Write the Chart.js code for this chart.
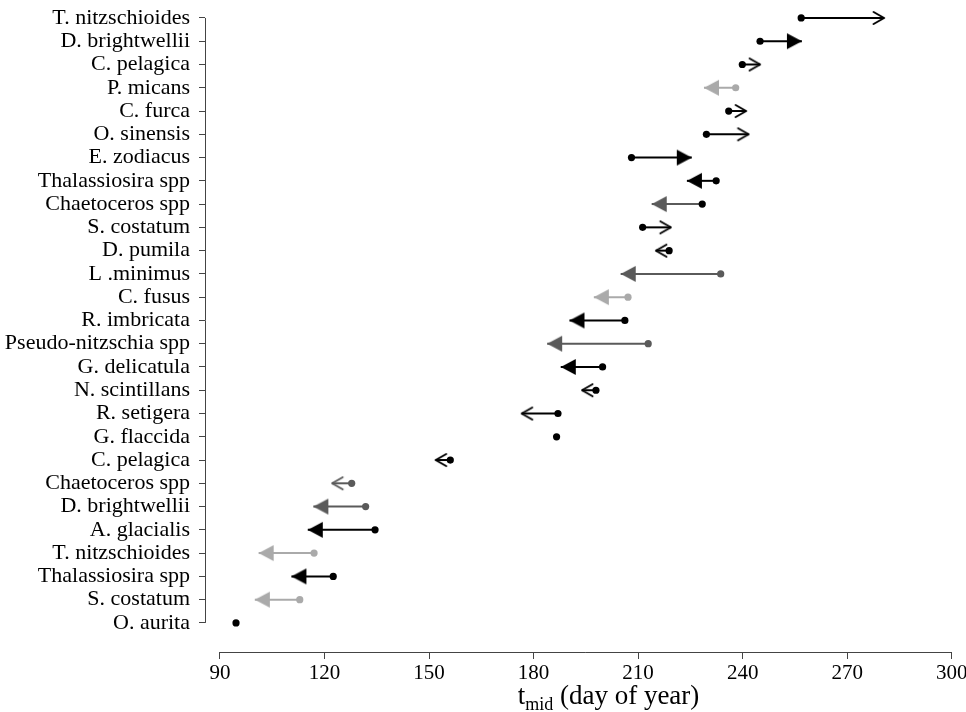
<!DOCTYPE html>
<html><head><meta charset="utf-8">
<script src="https://cdn.jsdelivr.net/npm/chart.js@4/dist/chart.umd.min.js"></script>
<style>html,body{margin:0;padding:0;background:#fff}#wrap{width:966px;height:712px}</style>
</head><body><div id="wrap"><canvas id="c" width="966" height="712"></canvas></div>
<script>
// ---- data (top row first) ----
const species = ['T. nitzschioides','D. brightwellii','C. pelagica','P. micans','C. furca','O. sinensis','E. zodiacus','Thalassiosira spp','Chaetoceros spp','S. costatum','D. pumila','L .minimus','C. fusus','R. imbricata','Pseudo-nitzschia spp','G. delicatula','N. scintillans','R. setigera','G. flaccida','C. pelagica','Chaetoceros spp','D. brightwellii','A. glacialis','T. nitzschioides','Thalassiosira spp','S. costatum','O. aurita'];
const startDay = [256.8,245.0,239.9,238.0,236.0,229.6,208.1,232.4,228.4,211.3,218.9,233.7,207.1,206.2,212.9,199.8,197.9,187.0,186.6,156.1,127.8,131.8,134.5,117.0,122.5,112.9,94.6];
const endDay   = [280.6,257.0,245.0,228.9,241.0,241.7,225.4,224.0,213.9,219.4,215.1,205.0,197.3,190.3,183.9,187.8,193.9,176.6,null,151.9,122.2,116.8,115.2,101.1,110.5,100.0,null];
// trend category: 'filled' head, 'open' head, or none
const headType = ['open','filled','open','filled','open','open','filled','filled','filled','open','open','filled','filled','filled','filled','filled','open','open',null,'open','open','filled','filled','filled','filled','filled',null];
// shade group: k = black, d = dark grey, l = light grey
const shadeGroup = ['k','k','k','l','k','k','k','k','d','k','k','d','l','k','d','k','k','k','k','k','d','d','k','l','k','l','k'];
const dotGroup   = ['k','k','k','l','k','k','k','k','k','k','k','d','l','k','d','k','k','k','k','k','d','d','k','l','k','l','k'];
const xTicks = [90,120,150,180,210,240,270,300];

// ---- styles ----
const SHADES = {k:'#000000', d:'#5a5a5a', l:'#aaaaaa'};
const AXIS = '#444444';
const FONT = 'Liberation Serif';

function headCanvas(kind, dir, color){
  const L = kind==='filled' ? 15 : 10.5, H = kind==='filled' ? 8 : 6;
  const c = document.createElement('canvas');
  const w = 2*Math.ceil(L+4), h = 2*Math.ceil(H+3);
  c.width = w; c.height = h;
  const g = c.getContext('2d');
  const cx = w/2, cy = h/2;
  g.beginPath();
  g.moveTo(cx - dir*L, cy - H); g.lineTo(cx, cy); g.lineTo(cx - dir*L, cy + H);
  if (kind === 'filled') { g.closePath(); g.fillStyle = color; g.fill(); }
  else { g.strokeStyle = color; g.lineWidth = 2; g.lineCap = 'round'; g.lineJoin = 'round'; g.stroke(); }
  return c;
}

const datasets = species.map((name, i) => {
  const col = SHADES[shadeGroup[i]];
  const dotCol = SHADES[dotGroup[i]];
  const pts = [{x: startDay[i], y: i}];
  let head = null;
  if (endDay[i] !== null) {
    pts.push({x: endDay[i], y: i});
    head = headCanvas(headType[i], endDay[i] > startDay[i] ? 1 : -1, col);
  }
  return {
    label: name,
    data: pts,
    showLine: true,
    borderColor: col,
    borderWidth: 2,
    pointRadius: 3.6,
    pointBackgroundColor: dotCol,
    pointBorderWidth: 0,
    pointStyle: ctx => (ctx.dataIndex === 0 ? 'circle' : head)
  };
});

const rAxes = {
  id: 'rAxes',
  afterDraw(chart) {
    const {ctx, chartArea, scales: {x, y}} = chart;
    ctx.save();
    ctx.strokeStyle = AXIS; ctx.lineWidth = 1;
    const yb = Math.round(chartArea.bottom) + 0.5;
    ctx.beginPath();
    ctx.moveTo(x.getPixelForValue(xTicks[0]), yb);
    ctx.lineTo(x.getPixelForValue(xTicks[xTicks.length-1]), yb);
    ctx.stroke();
    const xl = Math.round(chartArea.left) + 0.5;
    ctx.beginPath();
    ctx.moveTo(xl, y.getPixelForValue(0));
    ctx.lineTo(xl, y.getPixelForValue(species.length-1));
    ctx.stroke();
    // axis title with subscript
    const big = '27px "' + FONT + '"', small = '18px "' + FONT + '"';
    const p1 = 't', p2 = 'mid', p3 = ' (day of year)';
    ctx.font = big; const w1 = ctx.measureText(p1).width, w3 = ctx.measureText(p3).width;
    ctx.font = small; const w2 = ctx.measureText(p2).width;
    const total = w1 + w2 + w3;
    const cx = x.getPixelForValue(201.5);
    const base = 704;
    let sx = cx - total/2;
    ctx.fillStyle = '#000'; ctx.textBaseline = 'alphabetic'; ctx.textAlign = 'left';
    ctx.font = big; ctx.fillText(p1, sx, base); sx += w1;
    ctx.font = small; ctx.fillText(p2, sx, base + 6); sx += w2;
    ctx.font = big; ctx.fillText(p3, sx, base);
    ctx.restore();
  }
};

new Chart(document.getElementById('c'), {
  type: 'scatter',
  data: {datasets},
  plugins: [rAxes],
  options: {
    responsive: false,
    animation: false,
    events: [],
    layout: {autoPadding: false, padding: {top: 4, left: 0, right: 0, bottom: 0}},
    plugins: {legend: {display: false}, tooltip: {enabled: false}},
    scales: {
      x: {
        type: 'linear', min: 85.7, max: 304.1,
        border: {display: false},
        grid: {display: true, drawOnChartArea: false, drawTicks: true, tickLength: 7, color: AXIS, lineWidth: 1},
        afterBuildTicks: s => { s.ticks = xTicks.map(v => ({value: v})); },
        afterFit: s => { s.height = 60; s.paddingLeft = 0; s.paddingRight = 0; },
        ticks: {font: {family: FONT, size: 21}, color: '#000', padding: 2, maxRotation: 0, autoSkip: false}
      },
      y: {
        type: 'linear', reverse: true, min: -0.6, max: 27.25,
        border: {display: false},
        grid: {display: true, drawOnChartArea: false, drawTicks: true, tickLength: 6, color: AXIS, lineWidth: 1},
        afterBuildTicks: s => { s.ticks = species.map((_, i) => ({value: i})); },
        afterFit: s => { s.width = 205; s.paddingTop = 0; s.paddingBottom = 0; },
        ticks: {font: {family: FONT, size: 22}, color: '#000', padding: 9, autoSkip: false,
                callback: v => species[v]}
      }
    }
  }
});
</script>
</body></html>
